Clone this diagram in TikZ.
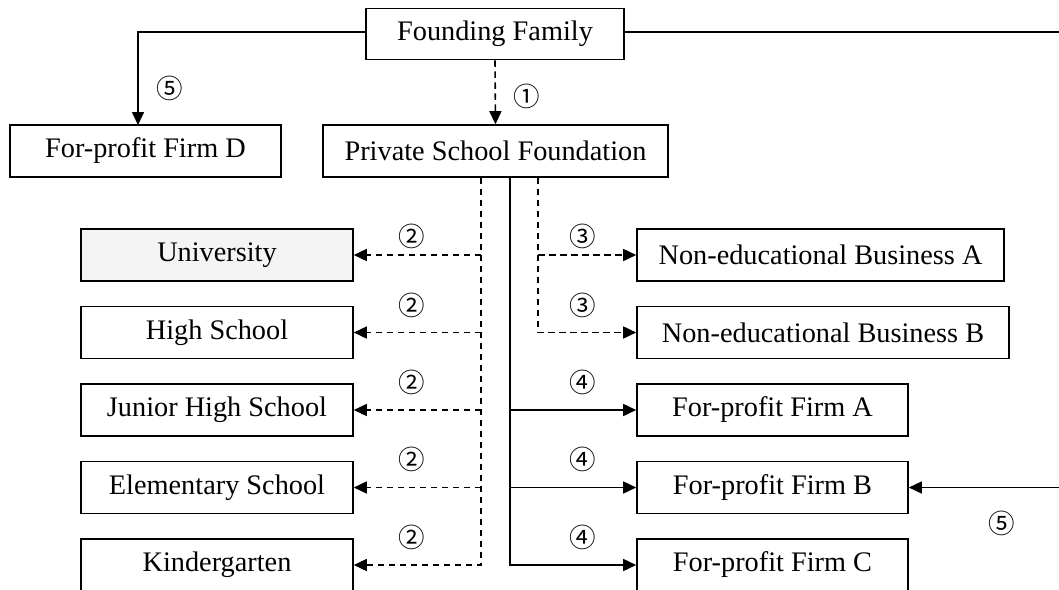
\documentclass[tikz,border=0pt]{standalone}
\usepackage{fontspec}
\setmainfont{Liberation Serif}
\newfontfamily\circfont{Noto Sans CJK SC}
\usetikzlibrary{arrows.meta}
\begin{document}
\begin{tikzpicture}[x=1pt,y=-1pt,
  box/.style={draw, line width=1.6pt, minimum height=52pt, inner sep=0pt, font=\fontsize{28.3}{30}\selectfont},
  conn/.style={line width=1.6pt},
  dconn/.style={line width=1.6pt, dash pattern=on 6.5pt off 4.5pt},
  tip/.style={-{Triangle[length=13pt,width=12pt]}},
  num/.style={font=\circfont\fontsize{26.5}{28}\selectfont, inner sep=0pt}]
\useasboundingbox (0,0) rectangle (1059,589);
% boxes
\node[box, minimum width=258pt, minimum height=51pt] (ff) at (495,34) {Founding Family};
\node[box, minimum width=271pt] (fd) at (145.5,151) {For-profit Firm D};
\node[box, minimum width=345pt] (psf) at (495.5,151) {Private School Foundation};
\node[box, minimum width=272pt, fill=gray!9] (uni) at (217,255) {University};
\node[box, minimum width=272pt] (hs) at (217,332.5) {High School};
\node[box, minimum width=272pt] (jhs) at (217,410) {Junior High School};
\node[box, minimum width=272pt] (es) at (217,487.5) {Elementary School\hspace{14pt}};
\node[box, minimum width=272pt] (kg) at (217,565) {Kindergarten};
\node[box, minimum width=367pt] (nea) at (820.5,255) {Non-educational Business A};
\node[box, minimum width=372pt] (neb) at (823,332.5) {Non-educational Business B};
\node[box, minimum width=271pt] (fa) at (772.5,410) {For-profit Firm A};
\node[box, minimum width=271pt] (fb) at (772.5,487.5) {For-profit Firm B};
\node[box, minimum width=271pt] (fc) at (772.5,565) {For-profit Firm C};
% helper coordinates
\coordinate (fdtop) at (138,125);
\coordinate (rc) at (1062,32);
\coordinate (vL) at (481,0);
\coordinate (vM) at (510,0);
\coordinate (vR) at (538,0);
% founding family connectors
\draw[conn,tip] (ff.west |- rc) -| (fdtop);
\draw[conn,tip] (ff.east |- rc) -- (rc) -- (rc |- fb.east) -- (fb.east);
\draw[dconn,tip] (ff.south) -- (psf.north);
% left dashed branch
\draw[dconn,tip] (vL |- psf.south) -- (vL |- kg.east) -- (kg.east);
\foreach \n in {uni,hs,jhs,es}{
  \draw[dconn,tip] (vL |- \n.east) -- (\n.east);
}
% middle solid branch
\draw[conn,tip] (vM |- psf.south) -- (vM |- fc.west) -- (fc.west);
\foreach \n in {fa,fb}{
  \draw[conn,tip] (vM |- \n.west) -- (\n.west);
}
% right dashed branch
\draw[dconn,tip] (vR |- psf.south) -- (vR |- neb.west) -- (neb.west);
\draw[dconn,tip] (vR |- nea.west) -- (nea.west);
% labels
\node[num] (l1) at (527,96) {①};
\node[num] (l5a) at (170,88) {⑤};
\node[num] (l5b) at (1002,523) {⑤};
\node[num] (l2a) at (412,236) {②};
\node[num] (l2b) at (412,305) {②};
\node[num] (l2c) at (412,382) {②};
\node[num] (l2d) at (412,459) {②};
\node[num] (l2e) at (412,537) {②};
\node[num] (l3a) at (583,236) {③};
\node[num] (l3b) at (583,305) {③};
\node[num] (l4a) at (583,382) {④};
\node[num] (l4b) at (583,459) {④};
\node[num] (l4c) at (583,537) {④};
\end{tikzpicture}
\end{document}
